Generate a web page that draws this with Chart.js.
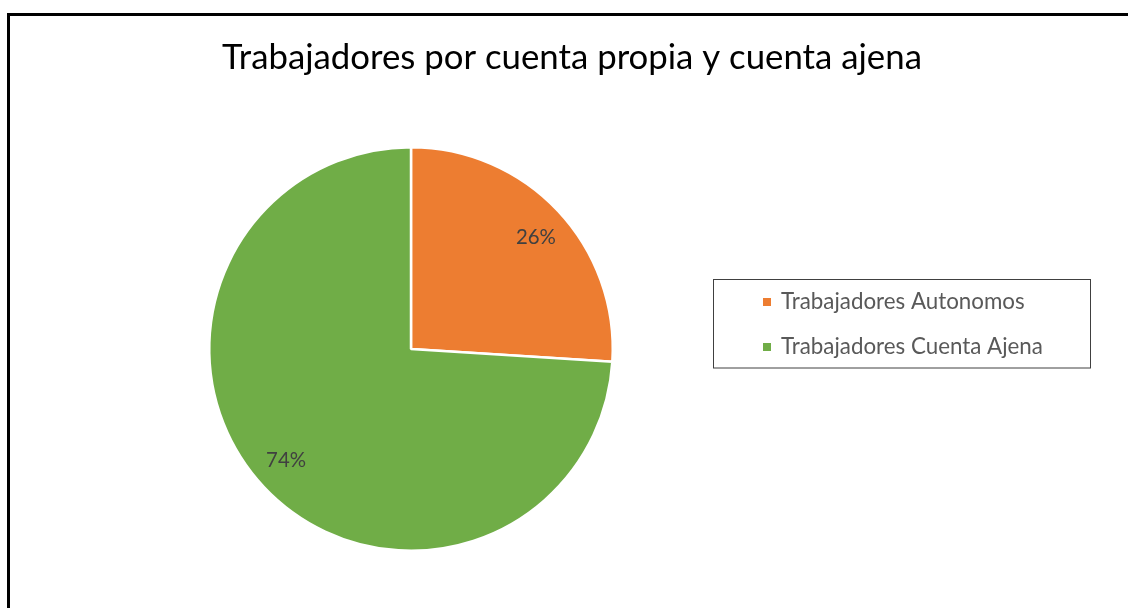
<!DOCTYPE html>
<html>
<head>
<meta charset="utf-8">
<script src="https://cdn.jsdelivr.net/npm/chart.js@4/dist/chart.umd.min.js"></script>
<style>
  html, body { margin: 0; padding: 0; background: #fff; overflow: hidden; }
  #wrap { position: absolute; left: 0; top: 0; width: 1128px; height: 608px; }
  #frame { position: absolute; left: 7px; top: 13px; width: 1200px; height: 700px; border: 3px solid #000; box-sizing: border-box; }
  canvas { position: absolute; left: 0; top: 0; }
</style>
</head>
<body>
<div id="wrap">
  <div id="frame"></div>
  <canvas id="c" width="1128" height="608"></canvas>
</div>
<script>
const titleText = 'Trabajadores por cuenta propia y cuenta ajena';
const categories = ['Trabajadores Autonomos', 'Trabajadores Cuenta Ajena'];
const values = [26, 74];
const colors = ['#ED7D31', '#70AD47'];

const FONT = 'Lato, "Open Sans", sans-serif';

function fitSize(ctx, text, width) {
  ctx.font = '100px ' + FONT;
  const w = ctx.measureText(text).width;
  return 100 * width / w;
}

const titlePlugin = {
  id: 'manualTitle',
  afterDraw(chart) {
    const ctx = chart.ctx;
    ctx.save();
    const size = fitSize(ctx, titleText, 700);
    ctx.font = size + 'px ' + FONT;
    ctx.fillStyle = '#000000';
    ctx.textAlign = 'center';
    ctx.textBaseline = 'alphabetic';
    ctx.fillText(titleText, 572, 69);
    ctx.restore();
  }
};

const labelPlugin = {
  id: 'sliceLabels',
  afterDatasetsDraw(chart) {
    const ctx = chart.ctx;
    const meta = chart.getDatasetMeta(0);
    const total = values.reduce((a, b) => a + b, 0);
    ctx.save();
    const size = fitSize(ctx, '26%', 40);
    ctx.font = size + 'px ' + FONT;
    ctx.fillStyle = '#404040';
    ctx.textAlign = 'center';
    ctx.textBaseline = 'middle';
    meta.data.forEach((arc, i) => {
      const p = arc.getProps(['x', 'y', 'startAngle', 'endAngle', 'outerRadius'], true);
      const mid = (p.startAngle + p.endAngle) / 2 + 0.025;
      const r = p.outerRadius * 0.83;
      const pct = Math.round(values[i] / total * 100) + '%';
      ctx.fillText(pct, p.x + Math.cos(mid) * r, p.y + Math.sin(mid) * r);
    });
    ctx.restore();
  }
};

const legendPlugin = {
  id: 'boxLegend',
  afterDraw(chart) {
    const ctx = chart.ctx;
    ctx.save();
    ctx.strokeStyle = '#404040';
    ctx.lineWidth = 1;
    ctx.strokeRect(713.5, 279.5, 377, 88.5);
    const size = fitSize(ctx, categories[1], 262);
    ctx.font = size + 'px ' + FONT;
    ctx.textBaseline = 'alphabetic';
    ctx.textAlign = 'left';
    const baselines = [309, 354];
    categories.forEach((name, i) => {
      ctx.fillStyle = colors[i];
      ctx.fillRect(763, baselines[i] - 11, 8, 8);
      ctx.fillStyle = '#595959';
      ctx.fillText(name, 781, baselines[i]);
    });
    ctx.restore();
  }
};

new Chart(document.getElementById('c'), {
  type: 'pie',
  data: {
    labels: categories,
    datasets: [{
      data: values,
      backgroundColor: colors,
      borderColor: '#ffffff',
      borderWidth: 2.5
    }]
  },
  options: {
    responsive: false,
    animation: false,
    layout: { padding: { left: 208, right: 514, top: 146, bottom: 56 } },
    plugins: {
      legend: { display: false },
      tooltip: { enabled: false },
      title: { display: false }
    }
  },
  plugins: [labelPlugin, legendPlugin, titlePlugin]
});
</script>
</body>
</html>
